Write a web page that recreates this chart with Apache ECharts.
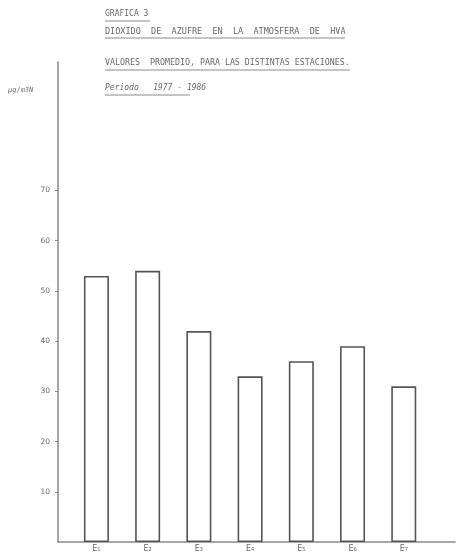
<!DOCTYPE html>
<html>
<head>
<meta charset="utf-8">
<script src="https://cdn.jsdelivr.net/npm/echarts@6/dist/echarts.min.js"></script>
<style>html,body{margin:0;padding:0;background:#fff}#c{width:465px;height:560px}</style>
</head>
<body>
<div id="c"></div>
<script>
const categories = ['E₁', 'E₂', 'E₃', 'E₄', 'E₅', 'E₆', 'E₇'];
const values = [53, 54, 42, 33, 36, 39, 31];
const yTicks = [10, 20, 30, 40, 50, 60, 70];
const titleLines = [
  'GRAFICA 3',
  'DIOXIDO  DE  AZUFRE  EN  LA  ATMOSFERA  DE  HVA',
  'VALORES  PROMEDIO, PARA LAS DISTINTAS ESTACIONES.',
  'Periodo   1977 - 1986'
];
const unitLabel = 'µg/m3N';

const chart = echarts.init(document.getElementById('c'));
const font = 'DejaVu Sans Mono';
const txtColor = '#6a6a6a';

const titleY = [10, 27, 59, 84];
const titleW = [45, 240, 245, 85];
const titleSize = [8, 8.5, 8.3, 8];
const graphics = [];
titleLines.forEach((t, i) => {
  graphics.push({
    type: 'text', left: 105, top: titleY[i],
    style: { text: t, font: (i === 3 ? 'italic ' : '') + titleSize[i] + 'px ' + font, fill: txtColor }
  });
  graphics.push({
    type: 'line', shape: { x1: 105, y1: titleY[i] + 11, x2: 105 + titleW[i], y2: titleY[i] + 11 },
    style: { stroke: '#8a8a8a', lineWidth: 1 }
  });
});
graphics.push({
  type: 'text', left: 8, top: 87,
  style: { text: unitLabel, font: 'italic 7px ' + font, fill: txtColor }
});

chart.setOption({
  animation: false,
  backgroundColor: '#fff',
  graphic: graphics,
  grid: { left: 58, right: 10, top: 62, bottom: 18 },
  xAxis: {
    type: 'value', min: 0.25, max: 8,
    splitLine: { show: false },
    axisLine: { show: true, onZero: false, lineStyle: { color: '#8a8a8a', width: 1.5 } },
    axisTick: { show: false },
    axisLabel: {
      customValues: categories.map((c, i) => i + 1),
      formatter: v => categories[Math.round(v) - 1] || '',
      fontFamily: 'DejaVu Sans', fontSize: 8, color: txtColor, margin: 3
    }
  },
  yAxis: {
    type: 'value', min: 0, max: 95.6,
    splitLine: { show: false },
    axisLine: { show: true, lineStyle: { color: '#8a8a8a', width: 1.5 } },
    axisTick: { show: true, customValues: yTicks, length: 3, inside: false, lineStyle: { color: '#8a8a8a' } },
    axisLabel: {
      customValues: yTicks,
      fontFamily: 'DejaVu Sans', fontSize: 7.5, color: txtColor, margin: 8
    }
  },
  series: [{
    type: 'bar',
    data: values.map((v, i) => [i + 1, v]),
    barWidth: 25,
    itemStyle: { color: '#fff', borderColor: '#555', borderWidth: 1.6 },
    silent: true
  }]
});
</script>
</body>
</html>
